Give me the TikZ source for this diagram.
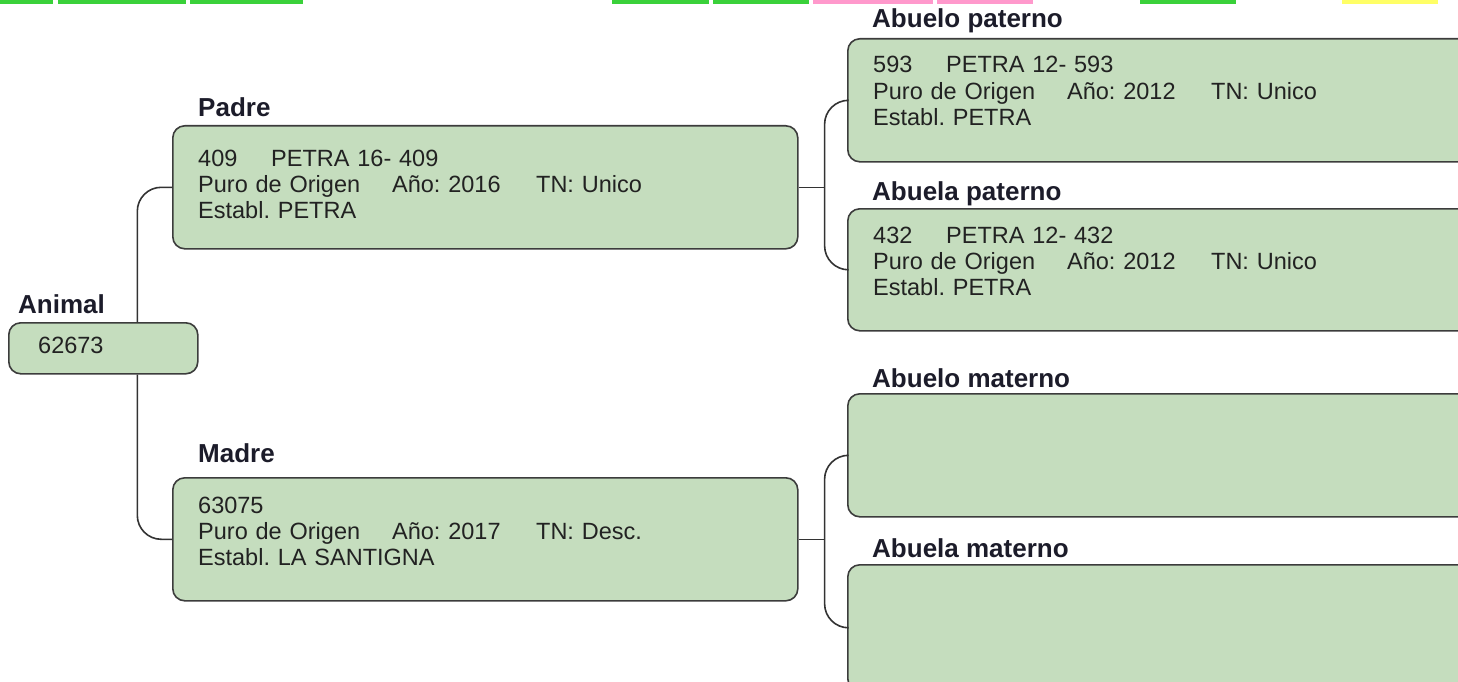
\documentclass[tikz,border=0pt]{standalone}
\usepackage{fontspec}
\setmainfont{Liberation Sans}
\frenchspacing
\definecolor{boxfill}{HTML}{C5DDBE}
\definecolor{boxline}{HTML}{3C3C3C}
\definecolor{linecol}{HTML}{333333}
\definecolor{headtext}{HTML}{1C1C2A}
\definecolor{bodytext}{HTML}{222222}
\definecolor{tabgreen}{HTML}{3AD13A}
\definecolor{tabpink}{HTML}{FF99CC}
\definecolor{tabyellow}{HTML}{FFFF66}
\newcommand{\datos}[3]{\makebox[194pt][l]{#1}\makebox[144pt][l]{#2}#3}
\newcommand{\codigo}[2]{\makebox[73pt][l]{#1}#2}

\begin{document}
\begin{tikzpicture}[x=1pt,y=-1pt]
\tikzset{box/.style = {draw=boxline,line width=1.6pt,fill=boxfill,rounded corners=12pt,anchor=north west,inner sep=0pt}}
\tikzset{head/.style = {anchor=base west,inner sep=0pt,text=headtext,font=\fontsize{26}{30}\selectfont\bfseries}}
\tikzset{info/.style = {anchor=base west,inner sep=0pt,text=bodytext,align=left,text width=500pt,font=\fontsize{23.5}{26.4}\selectfont\frenchspacing}}
\tikzset{link/.style = {draw=linecol,line width=1.6pt,rounded corners=24pt}}
\useasboundingbox (0,0) rectangle (1458,682);
\clip (0,0) rectangle (1458,682);
% tabs
\foreach \a/\b/\c in {0/53/tabgreen,58/186/tabgreen,190/303/tabgreen,612/709/tabgreen,713/809/tabgreen,813/933/tabpink,937/1033/tabpink,1140/1236/tabgreen,1342/1438/tabyellow}
  \fill[\c] (\a,0) rectangle (\b,4);
% boxes
\node[box,minimum width=189pt,minimum height=51pt] (animal) at (8,322) {};
\node[box,minimum width=625pt,minimum height=123pt] (padre) at (172,125) {};
\node[box,minimum width=625pt,minimum height=123pt] (madre) at (172,477) {};
\node[box,minimum width=650pt,minimum height=123pt] (abuelop) at (847,38) {};
\node[box,minimum width=650pt,minimum height=122pt] (abuelap) at (847,208) {};
\node[box,minimum width=650pt,minimum height=123pt] (abuelom) at (847,393) {};
\node[box,minimum width=650pt,minimum height=126pt] (abuelam) at (847,564) {};
% headings
\node[head] (animal-h) at (18,313) {Animal};
\node[head] (padre-h) at (198,117) {Padre};
\node[head] (madre-h) at (198,462) {Madre};
\node[head] (abuelop-h) at (872,28) {Abuelo paterno};
\node[head] (abuelap-h) at (872,200) {Abuela paterno};
\node[head] (abuelom-h) at (872,387) {Abuelo materno};
\node[head] (abuelam-h) at (872,557) {Abuela materno};
% texts
\node[info] (animal-t) at (38,353) {62673};
\node[info] (padre-t) at (198,166) {\codigo{409}{PETRA 16- 409}\\ \datos{Puro de Origen}{Año: 2016}{TN: Unico}\\ Establ. PETRA};
\node[info] (madre-t) at (198,513) {63075\\ \datos{Puro de Origen}{Año: 2017}{TN: Desc.}\\ Establ. LA SANTIGNA};
\node[info] (abuelop-t) at (873,73) {\codigo{593}{PETRA 12- 593}\\ \datos{Puro de Origen}{Año: 2012}{TN: Unico}\\ Establ. PETRA};
\node[info] (abuelap-t) at (873,243) {\codigo{432}{PETRA 12- 432}\\ \datos{Puro de Origen}{Año: 2012}{TN: Unico}\\ Establ. PETRA};
% links
\draw[link] ([xshift=34pt]animal.north) |- (padre.west);
\draw[link] ([xshift=34pt]animal.south) |- (madre.west);
\draw[link] (padre.east) -- ++(26,0) coordinate (jp);
\draw[link] (abuelop.west) -| (jp) |- (abuelap.west);
\draw[link] (madre.east) -- ++(26,0) coordinate (jm);
\draw[link] (abuelom.west) -| (jm) |- (abuelam.west);
\end{tikzpicture}
\end{document}
